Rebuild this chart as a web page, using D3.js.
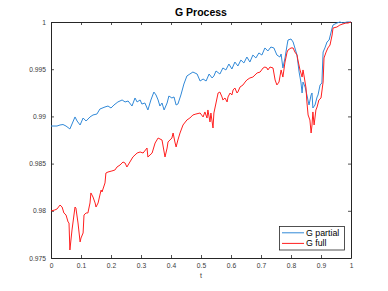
<!DOCTYPE html>
<html><head><meta charset="utf-8">
<script src="https://cdn.jsdelivr.net/npm/d3@7"></script>
<style>body{margin:0;background:#fff;}svg{display:block;font-family:"Liberation Sans",Arial,sans-serif;}</style>
</head><body>
<svg id="c" width="388" height="291"></svg>
<script>
const title = "G Process";
const xLabel = "t";
const xTicks = [0,0.1,0.2,0.3,0.4,0.5,0.6,0.7,0.8,0.9,1];
const xTickLabels = ["0","0.1","0.2","0.3","0.4","0.5","0.6","0.7","0.8","0.9","1"];
const yTicks = [0.975,0.98,0.985,0.99,0.995,1];
const yTickLabels = ["0.975","0.98","0.985","0.99","0.995","1"];
const seriesNames = ["G partial","G full"];
const seriesColors = ["#3189d8","#ff1f1f"];

const partialT = [0,0.02,0.03,0.04,0.05,0.063,0.08,0.087,0.097,0.107,0.117,0.13,0.14,0.153,0.163,0.18,0.19,0.2,0.21,0.223,0.237,0.247,0.257,0.27,0.28,0.287,0.297,0.303,0.313,0.323,0.333,0.343,0.35,0.357,0.363,0.37,0.377,0.387,0.393,0.403,0.41,0.417,0.423,0.433,0.443,0.453,0.463,0.473,0.487,0.497,0.507,0.517,0.527,0.537,0.543,0.55,0.563,0.573,0.583,0.593,0.603,0.613,0.623,0.633,0.643,0.653,0.663,0.673,0.683,0.693,0.703,0.713,0.723,0.733,0.743,0.753,0.763,0.767,0.773,0.78,0.787,0.79,0.8,0.807,0.82,0.827,0.833,0.837,0.84,0.847,0.853,0.86,0.867,0.87,0.873,0.88,0.887,0.89,0.897,0.903,0.907,0.913,0.92,0.927,0.937,0.94,0.953,0.963,0.973,0.987,1];
const partialV = [0.98898,0.98898,0.98909,0.98914,0.98898,0.98867,0.98994,0.98951,0.98909,0.98983,0.98951,0.98994,0.99015,0.99025,0.99078,0.99100,0.99110,0.99089,0.99121,0.99153,0.99174,0.99153,0.99163,0.99110,0.99195,0.99153,0.99174,0.99131,0.99142,0.99068,0.99174,0.99258,0.99227,0.99174,0.99110,0.99142,0.99068,0.99142,0.99216,0.99195,0.99206,0.99121,0.99131,0.99227,0.99343,0.99428,0.99449,0.99470,0.99449,0.99375,0.99396,0.99375,0.99449,0.99407,0.99428,0.99481,0.99449,0.99513,0.99492,0.99555,0.99502,0.99576,0.99534,0.99597,0.99566,0.99629,0.99576,0.99650,0.99619,0.99672,0.99650,0.99725,0.99693,0.99735,0.99725,0.99650,0.99629,0.99661,0.99513,0.99619,0.99756,0.99809,0.99820,0.99788,0.99650,0.99470,0.99364,0.99248,0.99364,0.99311,0.99227,0.99121,0.99227,0.99248,0.99089,0.99121,0.99206,0.99227,0.99333,0.99354,0.99682,0.99725,0.99788,0.99809,0.99936,0.99968,0.99989,1.0,0.99989,1.0,1.0];

const fullT = [0,0.013,0.02,0.03,0.037,0.043,0.05,0.057,0.06,0.063,0.07,0.08,0.083,0.09,0.097,0.1,0.107,0.11,0.117,0.123,0.13,0.133,0.14,0.147,0.15,0.157,0.163,0.167,0.17,0.18,0.183,0.19,0.203,0.213,0.22,0.23,0.24,0.247,0.253,0.263,0.273,0.287,0.297,0.307,0.32,0.323,0.337,0.347,0.357,0.37,0.373,0.38,0.387,0.39,0.403,0.407,0.413,0.417,0.423,0.43,0.44,0.453,0.463,0.473,0.483,0.497,0.507,0.513,0.52,0.523,0.53,0.533,0.54,0.543,0.55,0.557,0.563,0.57,0.573,0.58,0.587,0.59,0.597,0.603,0.607,0.613,0.62,0.623,0.63,0.64,0.647,0.653,0.663,0.673,0.687,0.697,0.707,0.713,0.72,0.723,0.73,0.74,0.747,0.753,0.76,0.767,0.773,0.78,0.787,0.79,0.8,0.807,0.813,0.82,0.823,0.83,0.837,0.84,0.843,0.85,0.853,0.857,0.863,0.867,0.87,0.873,0.877,0.883,0.887,0.893,0.9,0.907,0.91,0.917,0.923,0.93,0.937,0.94,0.953,0.963,0.973,0.983,0.99,1];
const fullV = [0.97998,0.98009,0.98019,0.98061,0.98040,0.97977,0.97956,0.97881,0.97871,0.97585,0.97797,0.98040,0.98030,0.97871,0.97670,0.97712,0.97765,0.97956,0.97977,0.97977,0.98083,0.98189,0.98146,0.98083,0.98040,0.98083,0.98167,0.98220,0.98199,0.98295,0.98400,0.98411,0.98422,0.98432,0.98464,0.98485,0.98517,0.98506,0.98464,0.98517,0.98570,0.98612,0.98623,0.98612,0.98665,0.98570,0.98612,0.98718,0.98771,0.98750,0.98697,0.98570,0.98665,0.98729,0.98771,0.98824,0.98729,0.98676,0.98750,0.98824,0.98909,0.98962,0.98983,0.99015,0.99025,0.99036,0.98994,0.99047,0.98983,0.99068,0.98941,0.99036,0.98877,0.99036,0.99142,0.99248,0.99258,0.99206,0.99174,0.99195,0.99153,0.99206,0.99248,0.99227,0.99280,0.99301,0.99248,0.99258,0.99311,0.99333,0.99364,0.99386,0.99407,0.99417,0.99460,0.99470,0.99513,0.99523,0.99513,0.99492,0.99523,0.99513,0.99386,0.99333,0.99364,0.99492,0.99417,0.99576,0.99682,0.99703,0.99725,0.99725,0.99682,0.99650,0.99597,0.99492,0.99417,0.99492,0.99439,0.99301,0.99153,0.99015,0.98962,0.98824,0.98909,0.99047,0.98909,0.99068,0.99100,0.99174,0.99195,0.99364,0.99619,0.99682,0.99725,0.99756,0.99862,0.99936,0.99947,0.99968,0.99979,0.99989,0.99989,1.0];

const svg = d3.select("#c");
const L = 51, R = 351, T = 22, B = 258;
const x = d3.scaleLinear().domain([0,1]).range([L,R]);
const y = d3.scaleLinear().domain([0.975,1]).range([B,T]);
const axisColor = "#262626";
const labelColor = "#3a3a3a";
const fs = 6.7;

const gx = svg.append("g").attr("transform",`translate(0,${B})`)
  .call(d3.axisBottom(x).tickValues(xTicks).tickFormat((d,i)=>xTickLabels[i]).tickSizeInner(-3).tickSizeOuter(0).tickPadding(5));
const gxt = svg.append("g").attr("transform",`translate(0,${T})`)
  .call(d3.axisTop(x).tickValues(xTicks).tickFormat("").tickSizeInner(-3).tickSizeOuter(0));
const gy = svg.append("g").attr("transform",`translate(${L},0)`)
  .call(d3.axisLeft(y).tickValues(yTicks).tickFormat((d,i)=>yTickLabels[i]).tickSizeInner(-3).tickSizeOuter(0).tickPadding(5));
const gyr = svg.append("g").attr("transform",`translate(${R},0)`)
  .call(d3.axisRight(y).tickValues(yTicks).tickFormat("").tickSizeInner(-3).tickSizeOuter(0));
[gx,gxt,gy,gyr].forEach(g=>{
  g.selectAll("path.domain").attr("stroke",axisColor).attr("stroke-width",1);
  g.selectAll(".tick line").attr("stroke",axisColor).attr("stroke-width",0.8);
  g.selectAll("text").attr("fill",labelColor).style("font-size",fs+"px").style("font-family","'Liberation Sans',Arial,sans-serif");
});

const line = d3.line().x(d=>x(d[0])).y(d=>y(d[1]));
const partialData = partialT.map((t,i)=>[t,partialV[i]]);
const fullData = fullT.map((t,i)=>[t,fullV[i]]);
svg.append("path").datum(partialData).attr("d",line).attr("fill","none").attr("stroke",seriesColors[0]).attr("stroke-width",1).attr("stroke-linejoin","round");
svg.append("path").datum(fullData).attr("d",line).attr("fill","none").attr("stroke",seriesColors[1]).attr("stroke-width",1).attr("stroke-linejoin","round");

svg.append("text").attr("x",(L+R)/2).attr("y",16).attr("text-anchor","middle")
  .style("font-size","10.5px").style("font-weight","bold").attr("fill","#000").text(title);
svg.append("text").attr("x",(L+R)/2).attr("y",277.5).attr("text-anchor","middle")
  .style("font-size","7px").attr("fill",labelColor).text(xLabel);

const lg = svg.append("g");
lg.append("rect").attr("x",279.5).attr("y",226.5).attr("width",65).attr("height",23.5)
  .attr("fill","#fff").attr("stroke",axisColor).attr("stroke-width",0.8);
seriesNames.forEach((n,i)=>{
  const yy = 232.8 + i*10.6;
  lg.append("line").attr("x1",282).attr("x2",304).attr("y1",yy).attr("y2",yy).attr("stroke",seriesColors[i]).attr("stroke-width",1);
  lg.append("text").attr("x",306).attr("y",yy+3).style("font-size","8.8px").attr("fill","#000").text(n);
});
</script>
</body></html>
